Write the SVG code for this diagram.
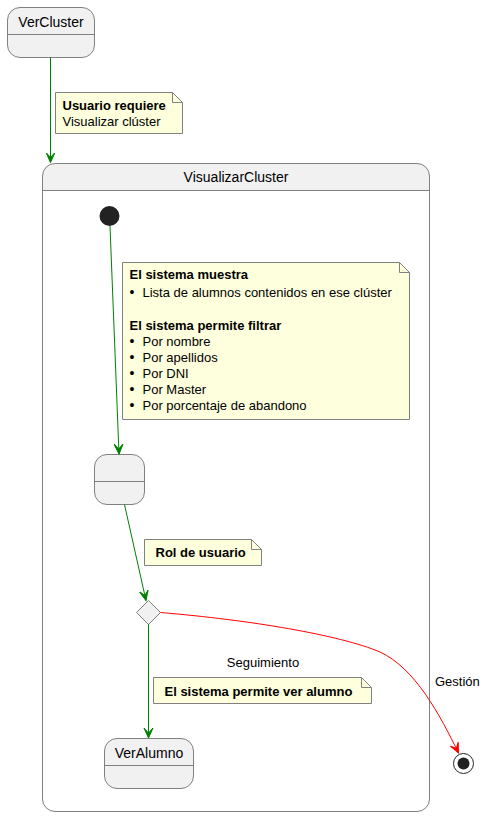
<svg xmlns="http://www.w3.org/2000/svg" width="486" height="817" viewBox="0 0 486 817">
<defs>
<style>
.st{fill:#F1F1F1;stroke:#808080;stroke-width:1}
.div{stroke:#808080;stroke-width:1}
.note{fill:#FEFFDD;stroke:#808080;stroke-width:1}
.t{font-family:"Liberation Sans",Arial,sans-serif;fill:#000}
.sn{font-size:14px}
.nt{font-size:13px}
.b{font-weight:bold}
.bul{font-size:14px}
.g{stroke:#008000;stroke-width:1;fill:none}
.r{stroke:#FF0000;stroke-width:1;fill:none}
</style>
<marker id="ag" markerUnits="userSpaceOnUse" markerWidth="12" markerHeight="12" viewBox="-10 -6 12 12" refX="0" refY="0" orient="auto">
<path d="M0,0 L-10,-4.5 L-5,0 L-10,4.5 Z" fill="#008000" stroke="#008000" stroke-width="1"/>
</marker>
<marker id="ar" markerUnits="userSpaceOnUse" markerWidth="12" markerHeight="12" viewBox="-10 -6 12 12" refX="0" refY="0" orient="auto">
<path d="M0,0 L-10,-4.5 L-5,0 L-10,4.5 Z" fill="#FF0000" stroke="#FF0000" stroke-width="1"/>
</marker>
</defs>
<rect width="486" height="817" fill="#FFFFFF"/>

<g id="VisualizarCluster">
<path d="M54.5,163.5 H417.5 A12,12 0 0 1 429.5,175.5 V190.5 H42.5 V175.5 A12,12 0 0 1 54.5,163.5 Z" fill="#F1F1F1"/>
<rect x="42.5" y="163.5" width="387" height="648" rx="12.5" ry="12.5" fill="none" stroke="#808080"/>
<line class="div" x1="42.5" y1="190.5" x2="429.5" y2="190.5"/>
<text class="t sn" x="236" y="182" text-anchor="middle">VisualizarCluster</text>
</g>

<g id="VerCluster">
<rect class="st" x="7.5" y="7.5" width="87" height="50" rx="12.5" ry="12.5"/>
<line class="div" x1="7.5" y1="34.5" x2="94.5" y2="34.5"/>
<text class="t sn" x="51" y="27" text-anchor="middle">VerCluster</text>
</g>

<g id="initial">
<circle cx="109.5" cy="216" r="10" fill="#222222"/>
</g>

<g id="estado">
<rect class="st" x="94.5" y="454.5" width="50" height="50" rx="12.5" ry="12.5"/>
<line class="div" x1="94.5" y1="481.5" x2="144.5" y2="481.5"/>
</g>

<g id="choice">
<polygon class="st" points="148.5,600.5 160.5,612.5 148.5,624.5 136.5,612.5"/>
</g>

<g id="VerAlumno">
<rect class="st" x="104.5" y="738.5" width="89" height="50" rx="12.5" ry="12.5"/>
<line class="div" x1="104.5" y1="765.5" x2="193.5" y2="765.5"/>
<text class="t sn" x="149" y="758" text-anchor="middle">VerAlumno</text>
</g>

<g id="final">
<circle cx="463.5" cy="763.5" r="10" fill="none" stroke="#222222" stroke-width="1"/>
<circle cx="463.5" cy="763.5" r="6" fill="#222222"/>
</g>

<g id="connectors">
<line class="g" x1="50.5" y1="57.5" x2="50.5" y2="162.5" marker-end="url(#ag)"/>
<line class="g" x1="110" y1="226" x2="119" y2="454" marker-end="url(#ag)"/>
<line class="g" x1="124.5" y1="504.5" x2="146" y2="600.5" marker-end="url(#ag)"/>
<line class="g" x1="148.5" y1="624.5" x2="148.5" y2="738" marker-end="url(#ag)"/>
<path class="r" d="M160.5,612.5 C250,620 340,635 380,652 C415,668 440,715 458.5,753" marker-end="url(#ar)"/>
<text class="t nt" x="263" y="667" text-anchor="middle">Seguimiento</text>
<text class="t nt" x="435" y="686">Gestión</text>
</g>

<g id="note1">
<path class="note" d="M55.5,92.5 H172.5 L182.5,102.5 V133.5 H55.5 Z"/>
<path d="M172.5,92.5 V102.5 H182.5" fill="none" stroke="#808080"/>
<text class="t nt b" x="62.5" y="110">Usuario requiere</text>
<text class="t nt" x="62.5" y="126">Visualizar clúster</text>
</g>

<g id="note2">
<path class="note" d="M122.5,262.5 H399.5 L409.5,272.5 V419.5 H122.5 Z"/>
<path d="M399.5,262.5 V272.5 H409.5" fill="none" stroke="#808080"/>
<text class="t nt b" x="129.5" y="279">El sistema muestra</text>
<text class="t nt" x="129.5" y="297"><tspan class="bul">•</tspan><tspan x="142.5">Lista de alumnos contenidos en ese clúster</tspan></text>
<text class="t nt b" x="129.5" y="330">El sistema permite filtrar</text>
<text class="t nt" x="129.5" y="346"><tspan class="bul">•</tspan><tspan x="142.5">Por nombre</tspan></text>
<text class="t nt" x="129.5" y="362"><tspan class="bul">•</tspan><tspan x="142.5">Por apellidos</tspan></text>
<text class="t nt" x="129.5" y="378"><tspan class="bul">•</tspan><tspan x="142.5">Por DNI</tspan></text>
<text class="t nt" x="129.5" y="394"><tspan class="bul">•</tspan><tspan x="142.5">Por Master</tspan></text>
<text class="t nt" x="129.5" y="410"><tspan class="bul">•</tspan><tspan x="142.5">Por porcentaje de abandono</tspan></text>
</g>

<g id="note3">
<path class="note" d="M144.5,539.5 H251.5 L261.5,549.5 V565.5 H144.5 Z"/>
<path d="M251.5,539.5 V549.5 H261.5" fill="none" stroke="#808080"/>
<text class="t nt b" x="155.5" y="557">Rol de usuario</text>
</g>

<g id="note4">
<path class="note" d="M153.5,677.5 H361.5 L371.5,687.5 V703.5 H153.5 Z"/>
<path d="M361.5,677.5 V687.5 H371.5" fill="none" stroke="#808080"/>
<text class="t nt b" x="164.5" y="696">El sistema permite ver alumno</text>
</g>
</svg>
